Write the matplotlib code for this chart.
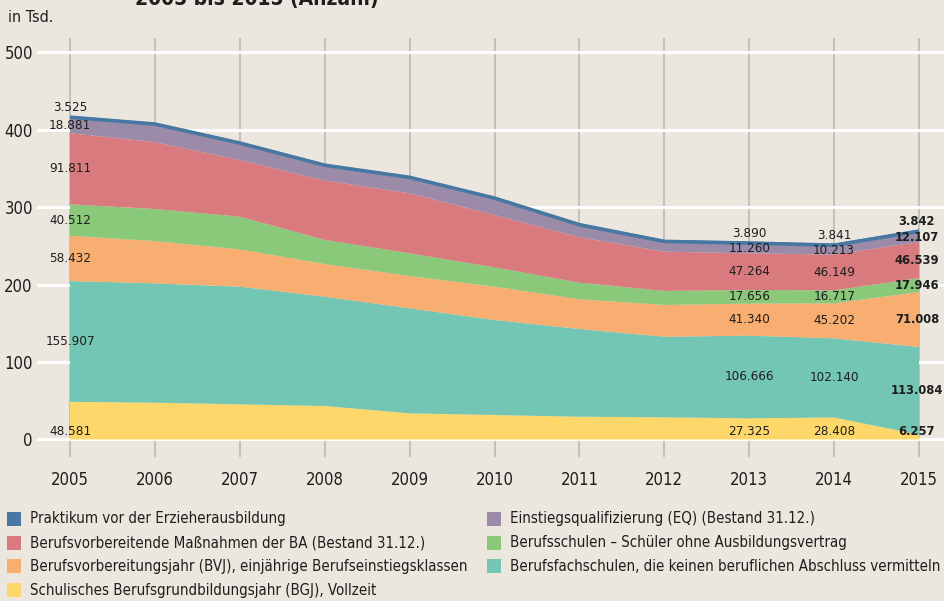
import matplotlib
matplotlib.use("Agg")
import matplotlib.pyplot as plt
from matplotlib.patches import Rectangle
import numpy as np

plt.rcParams['font.family'] = ['DejaVu Sans']
plt.rcParams['font.stretch'] = 'condensed'

years = list(range(2005, 2016))

# Anzahl in Tsd., unterste Schicht zuerst
bgj = [48.581, 47.5, 45.4, 43.2, 33.8, 31.6, 29.4, 28.6, 27.325, 28.408, 6.257]
bfs = [155.907, 154.0, 151.8, 141.1, 135.5, 122.6, 113.2, 104.0, 106.666, 102.140, 113.084]
bvj = [58.432, 54.5, 48.2, 42.2, 41.7, 43.0, 38.4, 41.0, 41.340, 45.202, 71.008]
bs = [40.512, 41.4, 42.1, 31.1, 29.2, 25.0, 21.3, 18.1, 17.656, 16.717, 17.946]
ba = [91.811, 86.4, 73.1, 76.6, 77.5, 67.5, 58.7, 50.7, 47.264, 46.149, 46.539]
eq = [18.881, 21.5, 20.2, 18.0, 18.8, 20.0, 14.3, 11.3, 11.260, 10.213, 12.107]
prakt = [3.525, 3.5, 3.5, 3.5, 3.5, 3.6, 3.7, 3.8, 3.890, 3.841, 3.842]

labelled_years = [2005, 2013, 2014, 2015]

names = [
    "Schulisches Berufsgrundbildungsjahr (BGJ), Vollzeit",
    "Berufsfachschulen, die keinen beruflichen Abschluss vermitteln",
    "Berufsvorbereitungsjahr (BVJ), einjährige Berufseinstiegsklassen",
    "Berufsschulen – Schüler ohne Ausbildungsvertrag",
    "Berufsvorbereitende Maßnahmen der BA (Bestand 31.12.)",
    "Einstiegsqualifizierung (EQ) (Bestand 31.12.)",
    "Praktikum vor der Erzieherausbildung",
]
colors = ["#fed76a", "#73c6b4", "#f7ae70", "#8ac87a", "#d97b7e", "#9b8aa8", "#4777a3"]

bg = "#ebe7de"
txt = "#1e1e1e"

series = np.array([bgj, bfs, bvj, bs, ba, eq, prakt])
tops = np.cumsum(series, axis=0)
bottoms = tops - series

fig = plt.figure(figsize=(9.44, 6.01), dpi=100, facecolor=bg)
W, H = 944, 601
ax = fig.add_axes([37 / W, 1 - 457 / H, 1 - 37 / W, (457 - 38) / H])
ax.set_facecolor(bg)
ax.set_xlim(2004.611, 2015.294)
ax.set_ylim(-22.6, 518.1)

# Raster: graue Jahreslinien, weiße Hilfslinien
for yr in years:
    ax.axvline(yr, color="#b8b6b6", lw=1.1, zorder=0)
for v in range(0, 501, 100):
    ax.axhline(v, color="white", lw=2.1, zorder=0.5)

ax.stackplot(years, series, colors=colors, linewidth=0, zorder=2)
ax.plot(years, tops[-1] - series[-1] / 2, color=colors[-1], lw=2.6, zorder=3,
        solid_capstyle="butt")

for s in ax.spines.values():
    s.set_visible(False)
ax.set_xticks(years)
ax.set_xticklabels([str(y) for y in years])
ax.set_yticks(range(0, 501, 100))
ax.tick_params(length=0, labelsize=12, colors=txt)
ax.tick_params(axis="y", pad=3)
ax.tick_params(axis="x", pad=10)

# Werte an ausgewählten Jahren, letztes Jahr fett
for yr in labelled_years:
    i = years.index(yr)
    last = yr == years[-1]
    xpos = yr - 0.025 if last else yr
    for k in range(len(series)):
        v = series[k, i]
        if k == 0:
            ypos = 10
        elif k == len(series) - 1:
            ypos = tops[k, i] + 11
        else:
            ypos = (bottoms[k, i] + tops[k, i]) / 2
        ax.text(xpos, ypos, f"{v:.3f}", ha="center", va="center",
                fontsize=9.3 if last else 9.6, color=txt,
                fontweight="bold" if last else "normal", zorder=5)

fig.text(8 / W, 1 - 18 / H, "in Tsd.", fontsize=11.5, color=txt, va="center")
fig.text(257 / W, 1 - 5 / H, "2005 bis 2015 (Anzahl)", fontsize=15, color=txt,
         fontweight="bold", ha="center", va="baseline")

# Legende, zeilenweise in zwei Spalten
order = [6, 5, 4, 3, 2, 1, 0]
for n, k in enumerate(order):
    row, col = n // 2, n % 2
    x0 = 7 if col == 0 else 487
    yc = 519 + row * 23.7
    fig.add_artist(Rectangle((x0 / W, 1 - (yc + 7) / H), 14 / W, 14 / H,
                             transform=fig.transFigure, color=colors[k], lw=0))
    fig.text((x0 + 23) / W, 1 - yc / H, names[k], fontsize=10.8, color=txt,
             va="center")

fig.savefig("out.png", dpi=100, facecolor=bg)
